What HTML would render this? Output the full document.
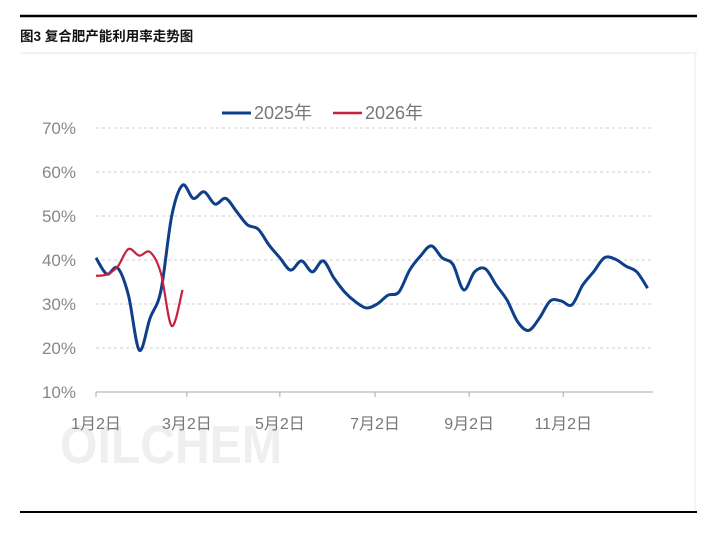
<!DOCTYPE html>
<html><head><meta charset="utf-8"><style>
body{margin:0;background:#fff;width:707px;height:533px;overflow:hidden;font-family:"Liberation Sans","Noto Sans CJK SC",sans-serif}
</style></head><body>
<svg width="707" height="533" xmlns="http://www.w3.org/2000/svg">
<rect x="0" y="0" width="707" height="533" fill="#fff"/>
<line x1="20" y1="16" x2="697" y2="16" stroke="#000" stroke-width="2.5"/>
<text x="20" y="41" font-size="13.5" font-weight="bold" fill="#111" font-family="Liberation Sans,Noto Sans CJK SC,sans-serif">图3 复合肥产能利用率走势图</text>
<line x1="20" y1="53" x2="697" y2="53" stroke="#e4e4e4" stroke-width="1"/>
<line x1="695" y1="53" x2="695" y2="510" stroke="#eee" stroke-width="1"/>
<line x1="20" y1="512" x2="697" y2="512" stroke="#000" stroke-width="2"/>
<text x="60" y="463" font-size="54" font-weight="bold" fill="#efefef" textLength="222" lengthAdjust="spacingAndGlyphs" font-family="Liberation Sans,sans-serif">OILCHEM</text>
<g>
<line x1="222" y1="113" x2="251" y2="113" stroke="#0d3f8a" stroke-width="3"/>
<text x="254" y="119" font-size="18" fill="#777">2025年</text>
<line x1="333" y1="113" x2="362" y2="113" stroke="#c8213f" stroke-width="2.5"/>
<text x="365" y="119" font-size="18" fill="#777">2026年</text>
</g>
<g id="grid"></g><g id="axes"></g><g id="series"></g>
</svg>
<script>
const yTicks=[10,20,30,40,50,60,70];
const xTickLabels=["1月2日","3月2日","5月2日","7月2日","9月2日","11月2日"];
const xTickWeeks=[0,8.4,17,25.8,34.5,43.2];
const series2025=[40.5,36.8,38.2,32,19.5,26.8,33,50,57,54,55.5,52.7,54,51,48,47,43.4,40.5,37.7,39.8,37.3,39.8,35.9,32.7,30.5,29.1,30,32,32.7,37.7,40.9,43.2,40.5,39,33.2,37.3,38,34.3,30.9,25.9,24,26.8,30.7,30.7,29.8,34.3,37.3,40.5,40.2,38.6,37.3,33.6];
const series2026=[36.4,36.7,38.5,42.5,41,41.8,37,25,33.2];
const NS="http://www.w3.org/2000/svg";
const x0=96,x1=653,yTop=128,yBot=392;
const xs=i=>x0+i*(x1-x0)/51.5;
const ys=v=>yBot-(v-10)*(yBot-yTop)/60;
function mk(t,a,p){const e=document.createElementNS(NS,t);for(const k in a)e.setAttribute(k,a[k]);p.appendChild(e);return e;}
const grid=document.getElementById('grid'),axes=document.getElementById('axes'),ser=document.getElementById('series');
yTicks.forEach(v=>{
 if(v>10){const l=mk('line',{x1:x0,x2:x1,y1:ys(v),y2:ys(v),stroke:'#cfcfcf','stroke-dasharray':'3,3'},grid);
 
 }
 const t=mk('text',{x:76,y:ys(v)+6,'text-anchor':'end','font-size':17,fill:'#888'},axes);t.textContent=v+'%';
 
 
});
const ax=mk('line',{x1:x0,x2:x1,y1:yBot,y2:yBot,stroke:'#aaa','stroke-width':1},axes);


xTickLabels.forEach((s,i)=>{
 const x=xs(xTickWeeks[i]);
 const tk=mk('line',{x1:x,x2:x,y1:yBot,y2:yBot+5,stroke:'#aaa'},axes);
 
 
 const t=mk('text',{x:x,y:429,'text-anchor':'middle','font-size':16,fill:'#777'},axes);t.textContent=s;
 
 
});
function path(vals){
 const p=vals.map((v,i)=>[xs(i),ys(v)]);let d='M'+p[0][0]+','+p[0][1];
 for(let i=0;i<p.length-1;i++){const a=p[i-1]||p[i],b=p[i],c=p[i+1],e=p[i+2]||c;
 d+=' C'+(b[0]+(c[0]-a[0])/6)+','+(b[1]+(c[1]-a[1])/6)+' '+(c[0]-(e[0]-b[0])/6)+','+(c[1]-(e[1]-b[1])/6)+' '+c[0]+','+c[1];}
 return d;}
const l1=mk('path',{d:path(series2025),fill:'none',stroke:'#0d3f8a','stroke-width':3,'stroke-linejoin':'round'},ser);


const l2=mk('path',{d:path(series2026),fill:'none',stroke:'#c8213f','stroke-width':2.2,'stroke-linejoin':'round'},ser);


</script>
</body></html>
